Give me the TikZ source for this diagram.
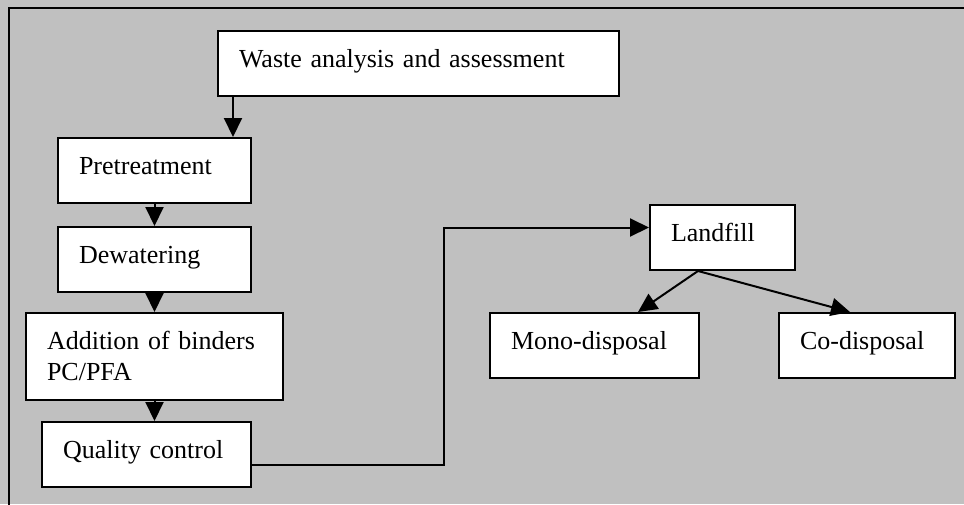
\documentclass[tikz,border=0pt]{standalone}
\usepackage{fontspec}
\setmainfont{Liberation Serif}
\usetikzlibrary{arrows.meta}
\definecolor{panelgray}{HTML}{C0C0C0}

\begin{document}
\begin{tikzpicture}[x=1pt,y=-1pt,line width=2pt,
  every node/.style={draw=black,fill=white,anchor=north west,inner xsep=21pt,inner ysep=0pt,
    align=left,font=\fontsize{26}{31}\selectfont,text height=36pt,text depth=29pt},
  arr/.style={-{Triangle[length=19pt,width=18pt]}}]
  \useasboundingbox (0,0) rectangle (964,504);
  % Fondo y marco
  \fill[panelgray] (0,0) rectangle (964,504);
  \draw (975,8) -- (9,8) -- (9,515);

  % Etapas
  \node[text width=359pt] (waste) at (217,30) {Waste analysis and assessment};
  \node[text width=151pt] (pre) at (57,137) {Pretreatment};
  \node[text width=151pt] (dew) at (57,226) {Dewatering};
  \node[text width=215pt, text depth=51pt] (add) at (25,312) {Addition of binders\\PC/PFA};
  \node[text width=167pt] (qual) at (41,421) {Quality control};

  % Destino
  \node[text width=103pt] (land) at (649,204) {Landfill};
  \node[text width=167pt] (mono) at (489,312) {Mono-disposal};
  \node[text width=134pt] (co) at (778,312) {Co-disposal};

  % Flechas
  \draw[arr] ([xshift=16pt]waste.south west) -- ([xshift=16pt]waste.south west |- pre.north);
  \foreach \from/\to in {pre/dew, dew/add}
    \draw[arr] (\from.south) -- (\to.north);
  \draw[arr] (add.south) -- (add.south |- qual.north);
  \draw[arr] ([yshift=-10pt]qual.east) -- ++(192,0) |- ([yshift=10pt]land.west);
  \draw[arr] ([xshift=49pt]land.south west) -- ([xshift=-62pt]mono.north east);
  \draw[arr] ([xshift=49pt]land.south west) -- ([xshift=72pt]co.north west);
\end{tikzpicture}
\end{document}
